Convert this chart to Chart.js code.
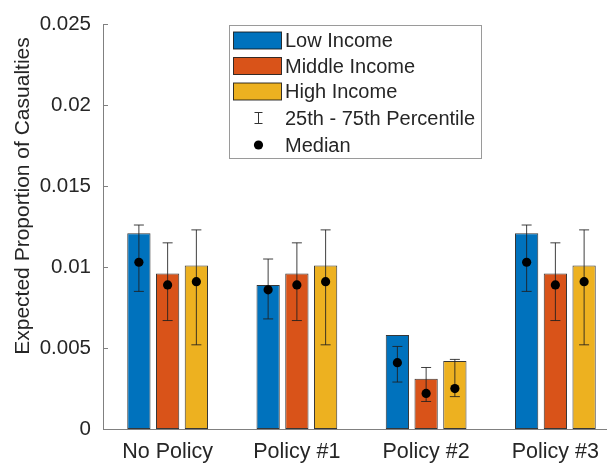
<!DOCTYPE html>
<html>
<head>
<meta charset="utf-8">
<style>
  html, body { margin: 0; padding: 0; background: #fff; overflow: hidden; }
  #wrap { width: 620px; height: 468px; position: relative; }
</style>
<script src="https://cdn.jsdelivr.net/npm/chart.js@4/dist/chart.umd.min.js"></script>
</head>
<body>
<div id="wrap"><canvas id="c" width="620" height="468"></canvas></div>
<script>
// Scenario groups along the x axis
const categories = ['No Policy', 'Policy #1', 'Policy #2', 'Policy #3'];
const seriesNames = ['Low Income', 'Middle Income', 'High Income'];

// Expected proportion of casualties (bar heights)
const lowExpected = [0.0121, 0.0089, 0.0058, 0.0121];
const midExpected = [0.0096, 0.0096, 0.0031, 0.0096];
const highExpected = [0.0101, 0.0101, 0.0042, 0.0101];

// Medians
const lowMedian = [0.0103, 0.0086, 0.0041, 0.0103];
const midMedian = [0.0089, 0.0089, 0.0022, 0.0089];
const highMedian = [0.0091, 0.0091, 0.0025, 0.0091];

// 25th percentiles
const lowP25 = [0.0085, 0.0068, 0.0029, 0.0085];
const midP25 = [0.0067, 0.0067, 0.0017, 0.0067];
const highP25 = [0.0052, 0.0052, 0.0020, 0.0052];

// 75th percentiles
const lowP75 = [0.0126, 0.0105, 0.0051, 0.0126];
const midP75 = [0.0115, 0.0115, 0.0038, 0.0115];
const highP75 = [0.0123, 0.0123, 0.0043, 0.0123];

// Y axis tick values
const yTicks = [0, 0.005, 0.01, 0.015, 0.02, 0.025];

const yTitle = 'Expected Proportion of Casualties';

const colors = ['#0072BD', '#D95319', '#EDB120'];
const expected = [lowExpected, midExpected, highExpected];
const medians = [lowMedian, midMedian, highMedian];
const p25 = [lowP25, midP25, highP25];
const p75 = [lowP75, midP75, highP75];

const FONT = "'Liberation Sans', Arial, Helvetica, sans-serif";
const AXIS_COLOR = '#808080';
const TEXT_COLOR = '#262626';

const datasets = expected.map((vals, d) => ({
  label: seriesNames[d],
  data: vals.map((v, i) => ({ x: i + 1, y: v })),
  backgroundColor: colors[d],
  borderColor: 'rgba(20,20,20,0.85)',
  borderWidth: 1,
  borderSkipped: false,
  categoryPercentage: 0.667,
  barPercentage: 0.81
}));

// Inward tick marks on the y axis, plus the rotated y axis title
const axisExtras = {
  id: 'axisExtras',
  afterDraw(chart) {
    const { ctx, chartArea, scales } = chart;
    ctx.save();
    ctx.strokeStyle = AXIS_COLOR;
    ctx.lineWidth = 1;
    yTicks.forEach(v => {
      const y = Math.round(scales.y.getPixelForValue(v)) + 0.5;
      ctx.beginPath();
      ctx.moveTo(chartArea.left, y);
      ctx.lineTo(chartArea.left + 5, y);
      ctx.stroke();
    });
    ctx.translate(23, 196);
    ctx.rotate(-Math.PI / 2);
    ctx.font = '21px ' + FONT;
    ctx.fillStyle = TEXT_COLOR;
    ctx.textAlign = 'center';
    ctx.textBaseline = 'middle';
    ctx.fillText(yTitle, 0, 0);
    ctx.restore();
  }
};

// Percentile whiskers and median markers on each bar
const statsOverlay = {
  id: 'statsOverlay',
  afterDatasetsDraw(chart) {
    const { ctx, scales } = chart;
    ctx.save();
    for (let d = 0; d < 3; d++) {
      const meta = chart.getDatasetMeta(d);
      meta.data.forEach((bar, i) => {
        const x = bar.x;
        const yLo = scales.y.getPixelForValue(p25[d][i]);
        const yHi = scales.y.getPixelForValue(p75[d][i]);
        ctx.strokeStyle = 'rgba(30,30,30,0.85)';
        ctx.lineWidth = 1;
        ctx.beginPath();
        ctx.moveTo(x, yLo); ctx.lineTo(x, yHi);
        ctx.moveTo(x - 5, yLo); ctx.lineTo(x + 5, yLo);
        ctx.moveTo(x - 5, yHi); ctx.lineTo(x + 5, yHi);
        ctx.stroke();
        const ym = scales.y.getPixelForValue(medians[d][i]);
        ctx.fillStyle = '#000';
        ctx.beginPath();
        ctx.arc(x, ym, 4.6, 0, Math.PI * 2);
        ctx.fill();
      });
    }
    ctx.restore();
  }
};

// Boxed legend with swatches, whisker and dot symbols
const boxLegend = {
  id: 'boxLegend',
  afterDraw(chart) {
    const { ctx } = chart;
    const left = 229.5, top = 25.5, w = 252, h = 133;
    ctx.save();
    ctx.fillStyle = '#fff';
    ctx.fillRect(left, top, w, h);
    ctx.strokeStyle = '#9a9a9a';
    ctx.lineWidth = 1;
    ctx.strokeRect(left, top, w, h);
    const rowY = [40.5, 66, 91.5, 118, 145];
    ctx.font = '20px ' + FONT;
    ctx.textBaseline = 'middle';
    ctx.textAlign = 'left';
    for (let d = 0; d < 3; d++) {
      ctx.fillStyle = colors[d];
      ctx.fillRect(233.5, rowY[d] - 8.5, 48, 17);
      ctx.strokeStyle = 'rgba(20,20,20,0.85)';
      ctx.strokeRect(233.5, rowY[d] - 8.5, 48, 17);
      ctx.fillStyle = TEXT_COLOR;
      ctx.fillText(seriesNames[d], 285, rowY[d] + 1);
    }
    // whisker symbol
    const cx = 258.5;
    ctx.strokeStyle = '#333';
    ctx.beginPath();
    ctx.moveTo(cx, rowY[3] - 5.5); ctx.lineTo(cx, rowY[3] + 5.5);
    ctx.moveTo(cx - 4, rowY[3] - 5.5); ctx.lineTo(cx + 4, rowY[3] - 5.5);
    ctx.moveTo(cx - 4, rowY[3] + 5.5); ctx.lineTo(cx + 4, rowY[3] + 5.5);
    ctx.stroke();
    ctx.fillStyle = TEXT_COLOR;
    ctx.fillText('25th - 75th Percentile', 285, rowY[3] + 1);
    // median symbol
    ctx.fillStyle = '#000';
    ctx.beginPath();
    ctx.arc(cx, rowY[4], 4.6, 0, Math.PI * 2);
    ctx.fill();
    ctx.fillStyle = TEXT_COLOR;
    ctx.fillText('Median', 285, rowY[4] + 1);
    ctx.restore();
  }
};

new Chart(document.getElementById('c'), {
  type: 'bar',
  data: { datasets },
  options: {
    responsive: false,
    animation: false,
    layout: { padding: { top: 19, left: 0, right: 0, bottom: 0 } },
    plugins: { legend: { display: false }, tooltip: { enabled: false } },
    scales: {
      x: {
        type: 'linear',
        min: 0.5,
        max: 4.5,
        offset: false,
        afterBuildTicks(scale) {
          scale.ticks = categories.map((c, i) => ({ value: i + 1 }));
        },
        afterFit(scale) { scale.height = 39; },
        ticks: {
          autoSkip: false,
          maxRotation: 0,
          padding: 10,
          color: TEXT_COLOR,
          font: { family: FONT, size: 21.5 },
          callback: (v) => categories[Math.round(v) - 1]
        },
        grid: { display: false, drawTicks: false },
        border: { color: AXIS_COLOR, width: 1 }
      },
      y: {
        min: 0,
        max: 0.025,
        afterBuildTicks(scale) {
          scale.ticks = yTicks.map(v => ({ value: v }));
        },
        afterFit(scale) { scale.width = 103; },
        ticks: {
          padding: 12,
          color: TEXT_COLOR,
          font: { family: FONT, size: 20.5 },
          callback: (v) => String(Number(v.toFixed(3)))
        },
        grid: { display: false, drawTicks: false },
        border: { color: AXIS_COLOR, width: 1 }
      }
    }
  },
  plugins: [axisExtras, statsOverlay, boxLegend]
});
</script>
</body>
</html>
